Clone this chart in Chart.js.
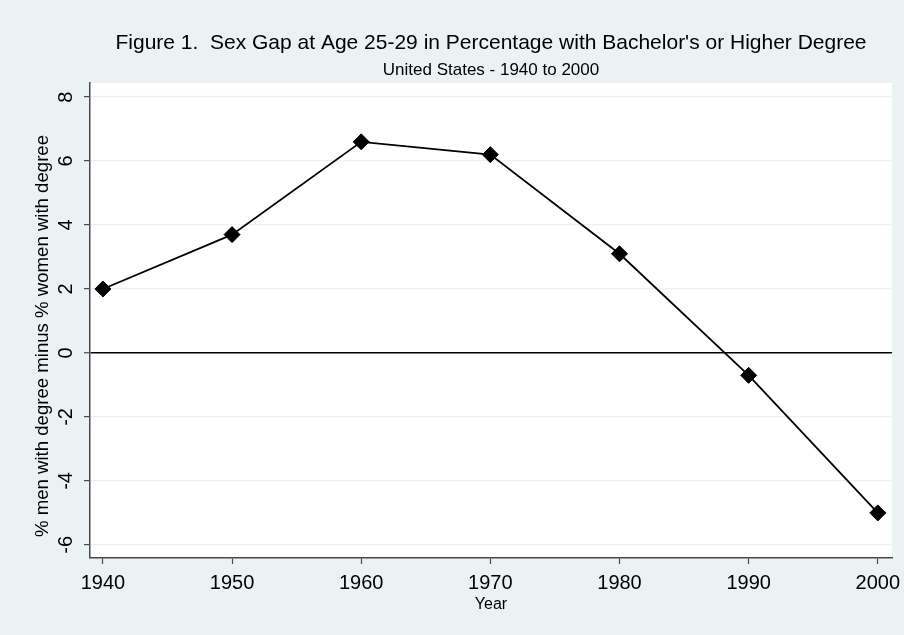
<!DOCTYPE html>
<html>
<head>
<meta charset="utf-8">
<script src="https://cdn.jsdelivr.net/npm/chart.js@4"></script>
<style>
  html, body { margin: 0; padding: 0; background: #eaf2f3; }
  #wrap { width: 904px; height: 635px; }
</style>
</head>
<body>
<div id="wrap"><canvas id="gapChart" width="904" height="635"></canvas></div>
<script>
// values
const years = [1940, 1950, 1960, 1970, 1980, 1990, 2000];
const gapValues = [2.0, 3.7, 6.6, 6.2, 3.1, -0.7, -5.0];
const yTickValues = [-6, -4, -2, 0, 2, 4, 6, 8];
const xTickValues = [1940, 1950, 1960, 1970, 1980, 1990, 2000];
const yAxisTitle = '% men with degree minus % women with degree';

const FONT = "'Liberation Sans', Arial, sans-serif";

// white plot region behind the grid
const plotBackground = {
    id: 'plotBackground',
    beforeDraw(chart) {
        const { ctx, chartArea } = chart;
        ctx.save();
        ctx.fillStyle = '#ffffff';
        ctx.fillRect(chartArea.left, chartArea.top, chartArea.right - chartArea.left, chartArea.bottom - chartArea.top);
        ctx.restore();
    }
};

// y title sits a bit below the middle of the axis in the original
const yTitle = {
    id: 'yTitle',
    afterDraw(chart) {
        const { ctx } = chart;
        ctx.save();
        ctx.translate(43, 336);
        ctx.rotate(-Math.PI / 2);
        ctx.fillStyle = '#000000';
        ctx.font = '18.6px ' + FONT;
        ctx.textAlign = 'center';
        ctx.textBaseline = 'middle';
        ctx.fillText(yAxisTitle, 0, 0);
        ctx.restore();
    }
};

const ctx = document.getElementById('gapChart').getContext('2d');

new Chart(ctx, {
    type: 'line',
    data: {
        datasets: [{
            data: years.map((yr, i) => ({ x: yr, y: gapValues[i] })),
            borderColor: '#000000',
            borderWidth: 1.8,
            backgroundColor: '#000000',
            pointStyle: 'rectRot',
            pointRadius: 8,
            pointBorderWidth: 1,
            pointBackgroundColor: '#000000',
            pointBorderColor: '#000000',
            tension: 0
        }]
    },
    options: {
        responsive: false,
        animation: false,
        layout: { padding: { left: 0, right: 12, top: 0, bottom: 0 } },
        plugins: {
            legend: { display: false },
            tooltip: { enabled: false },
            title: {
                display: true,
                fullSize: false,
                text: "Figure 1.  Sex Gap at Age 25-29 in Percentage with Bachelor's or Higher Degree",
                color: '#000000',
                font: { family: FONT, size: 21, weight: 'normal', lineHeight: 1.2 },
                padding: { top: 31, bottom: 0 }
            },
            subtitle: {
                display: true,
                fullSize: false,
                text: 'United States - 1940 to 2000',
                color: '#000000',
                font: { family: FONT, size: 17, weight: 'normal', lineHeight: 1.2 },
                padding: { top: 3.6, bottom: 2.8 }
            }
        },
        scales: {
            x: {
                type: 'linear',
                min: 1939,
                max: 2001.1,
                afterBuildTicks: scale => { scale.ticks = xTickValues.map(v => ({ value: v })); },
                afterFit: scale => {
                    scale.height = 77;
                    scale.paddingLeft = 0;
                    scale.paddingRight = 0;
                },
                ticks: {
                    color: '#000000',
                    font: { family: FONT, size: 20 },
                    padding: 7,
                    maxRotation: 0,
                    callback: v => String(v)
                },
                grid: {
                    drawOnChartArea: false,
                    drawTicks: true,
                    tickLength: 6,
                    tickColor: '#4a4a4a',
                    tickWidth: 1.2
                },
                border: { color: '#4a4a4a', width: 1.5 },
                title: {
                    display: true,
                    text: 'Year',
                    color: '#000000',
                    font: { family: FONT, size: 16 },
                    padding: { top: 0, bottom: 21 }
                }
            },
            y: {
                type: 'linear',
                min: -6.41,
                max: 8.44,
                afterBuildTicks: scale => { scale.ticks = yTickValues.map(v => ({ value: v })); },
                afterFit: scale => {
                    scale.width = 90;
                    scale.paddingTop = 0;
                    scale.paddingBottom = 0;
                },
                ticks: {
                    color: '#000000',
                    font: { family: FONT, size: 20 },
                    padding: 9,
                    minRotation: 90,
                    maxRotation: 90,
                    crossAlign: 'center',
                    callback: v => String(v)
                },
                grid: {
                    color: c => (c.tick && c.tick.value === 0) ? '#000000' : '#eaf2f3',
                    lineWidth: c => (c.tick && c.tick.value === 0) ? 1.5 : 1.2,
                    drawTicks: true,
                    tickLength: 6,
                    tickColor: '#4a4a4a',
                    tickWidth: 1.2
                },
                border: { color: '#4a4a4a', width: 1.5 }
            }
        }
    },
    plugins: [plotBackground, yTitle]
});
</script>
</body>
</html>
